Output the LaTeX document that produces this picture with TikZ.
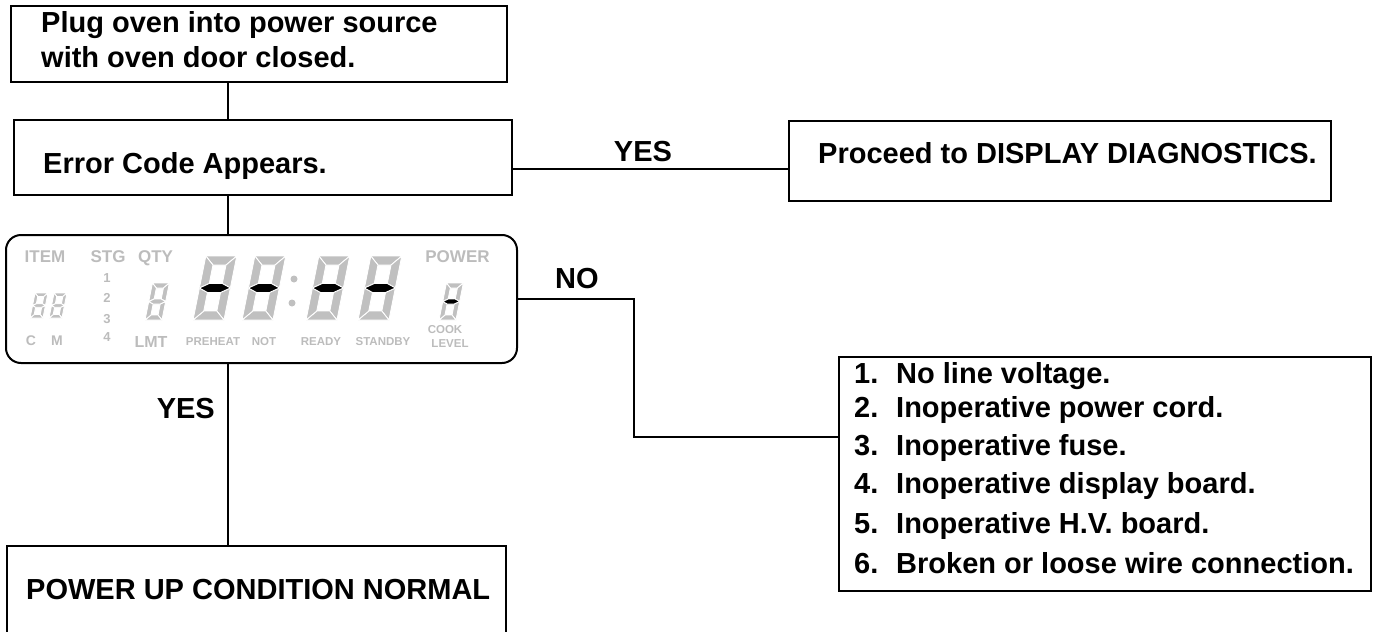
\documentclass[tikz,border=0pt]{standalone}
\usepackage{fontspec}
\setmainfont{Liberation Sans}
\definecolor{lcd}{RGB}{188,188,188}
\definecolor{segc}{RGB}{192,192,192}
\tikzset{
  box/.style={draw, line width=2pt, rectangle, anchor=north west, inner sep=0pt},
  txt/.style={anchor=base west, inner sep=0pt, font=\fontsize{29}{34}\selectfont\bfseries},
  conn/.style={line width=2pt},
  lcdlab/.style={text=lcd, inner sep=0pt, anchor=base, font=\bfseries\fontsize{#1}{#1}\selectfont},
  seg/.style={draw=white, fill=segc, line width=0.9pt, line join=miter},
}
\newcommand\sevenseg[6]{%
  \begin{scope}[shift={(#1,#2)},x=1pt,y=1pt,xslant=0.2]
    \def\sgW{#3}\def\sgH{#4}\def\sgT{#5}%
    \pgfmathsetmacro\sgM{#4/2}\pgfmathsetmacro\sgA{#5/2}%
    \draw[seg] (0,\sgH) -- (\sgW,\sgH) -- ({\sgW-\sgT},{\sgH-\sgT}) -- (\sgT,{\sgH-\sgT}) -- cycle;
    \draw[seg] (\sgW,\sgH) -- (\sgW,\sgM) -- ({\sgW-\sgT},{\sgM+\sgA}) -- ({\sgW-\sgT},{\sgH-\sgT}) -- cycle;
    \draw[seg] (\sgW,\sgM) -- (\sgW,0) -- ({\sgW-\sgT},\sgT) -- ({\sgW-\sgT},{\sgM-\sgA}) -- cycle;
    \draw[seg] (0,0) -- (\sgW,0) -- ({\sgW-\sgT},\sgT) -- (\sgT,\sgT) -- cycle;
    \draw[seg] (0,0) -- (0,\sgM) -- (\sgT,{\sgM-\sgA}) -- (\sgT,\sgT) -- cycle;
    \draw[seg] (0,\sgM) -- (0,\sgH) -- (\sgT,{\sgH-\sgT}) -- (\sgT,{\sgM+\sgA}) -- cycle;
    \draw[seg, fill=#6] (0,\sgM) -- (\sgT,{\sgM+\sgA}) -- ({\sgW-\sgT},{\sgM+\sgA}) -- (\sgW,\sgM) -- ({\sgW-\sgT},{\sgM-\sgA}) -- (\sgT,{\sgM-\sgA}) -- cycle;
  \end{scope}}
\begin{document}
\begin{tikzpicture}[x=1pt,y=-1pt]
\useasboundingbox (0,0) rectangle (1374,632);
\coordinate (xc) at (228,0);
\coordinate (yesy) at (0,169);
\coordinate (noA) at (634,299);
\coordinate (noB) at (634,437);

% boxes
\node[box, minimum width=496pt, minimum height=76pt] (b1) at (10,5) {};
\node[box, minimum width=498pt, minimum height=75pt] (b2) at (13,119) {};
\node[box, minimum width=511pt, minimum height=128pt, rounded corners=15pt] (lcd) at (5,234) {};
\node[box, minimum width=542pt, minimum height=80pt] (b3) at (788,120) {};
\node[box, minimum width=532pt, minimum height=234pt] (b4) at (838,356) {};
\node[box, draw=none, minimum width=497pt, minimum height=90pt] (b5) at (7,546) {};
\draw[line width=2pt] (b5.south west) -- (b5.north west) -- (b5.north east) -- (b5.south east);

% texts
\node[txt] (t1a) at (41,32) {Plug oven into power source};
\node[txt] (t1b) at (41,67) {with oven door closed.};
\node[txt] (t2) at (43,173) {Error Code Appears.};
\node[txt] (t3) at (818,163) {Proceed to DISPLAY DIAGNOSTICS.};
\node[txt] (t5) at (26,599) {POWER UP CONDITION NORMAL};
\node[txt, anchor=base] (yes1) at (643,161) {YES};
\node[txt] (no) at (555,288) {NO};
\node[txt, anchor=base east] (yes2) at (215,418) {YES};
\node[txt] (l1) at (854,383) {\makebox[42pt][l]{1.}No line voltage.};
\node[txt] (l2) at (854,417) {\makebox[42pt][l]{2.}Inoperative power cord.};
\node[txt] (l3) at (854,455) {\makebox[42pt][l]{3.}Inoperative fuse.};
\node[txt] (l4) at (854,493) {\makebox[42pt][l]{4.}Inoperative display board.};
\node[txt] (l5) at (854,533) {\makebox[42pt][l]{5.}Inoperative H.V. board.};
\node[txt] (l6) at (854,573) {\makebox[42pt][l]{6.}Broken or loose wire connection.};

% connectors
\draw[conn] (xc |- b1.south) -- (xc |- b2.north);
\draw[conn] (xc |- b2.south) -- (xc |- lcd.north);
\draw[conn] (xc |- lcd.south) -- (xc |- b5.north);
\draw[conn] (b2.east |- yesy) -- (b3.west |- yesy);
\draw[conn] (lcd.east |- noA) -- (noA) -- (noB) -- (b4.west |- noB);

% display labels
\node[lcdlab=17] (item) at (45,262) {ITEM};
\node[lcdlab=17] (stg) at (108,262) {STG};
\node[lcdlab=17] (qty) at (155.5,262) {QTY};
\node[lcdlab=17] (power) at (457.5,262) {POWER};
\node[lcdlab=13] (n1) at (107,282) {1};
\node[lcdlab=13] (n2) at (107,302) {2};
\node[lcdlab=13] (n3) at (107,323) {3};
\node[lcdlab=13] (n4) at (107,341) {4};
\node[lcdlab=14] (cc) at (31,345) {C};
\node[lcdlab=14] (mm) at (57,345) {M};
\node[lcdlab=16] (lmt) at (151,347) {LMT};
\node[lcdlab=11.5] (preheat) at (213,345) {PREHEAT};
\node[lcdlab=11.5] (notl) at (264,345) {NOT};
\node[lcdlab=11.5] (ready) at (321,345) {READY};
\node[lcdlab=11.5] (standby) at (383,345) {STANDBY};
\node[lcdlab=11.5] (cook) at (445,333) {COOK};
\node[lcdlab=11.5] (level) at (450,347) {LEVEL};

% digits
\sevenseg{30}{318}{13}{25}{3.5}{segc}
\sevenseg{49}{318}{13}{25}{3.5}{segc}
\sevenseg{145}{320}{17}{37}{5}{segc}
\sevenseg{193}{320}{31}{64}{9}{black}
\sevenseg{242}{320}{31}{64}{9}{black}
\sevenseg{306}{320}{31}{64}{9}{black}
\sevenseg{358}{320}{31}{64}{9}{black}
\sevenseg{439}{320}{17}{37}{5}{black}
\fill[segc] (294,279) circle (3.5);
\fill[segc] (292,303) circle (3.5);
\end{tikzpicture}
\end{document}
